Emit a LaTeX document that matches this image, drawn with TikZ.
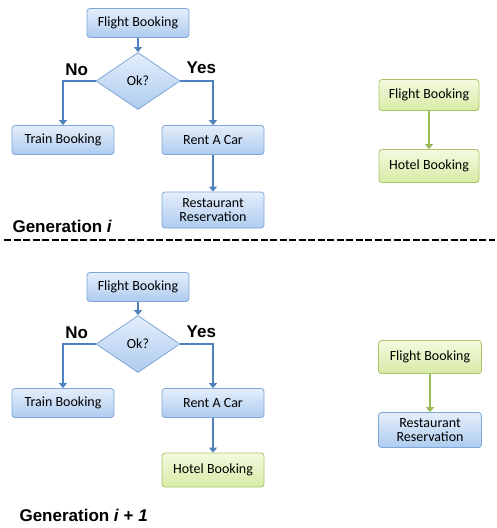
\documentclass[tikz,border=0pt]{standalone}
\usepackage{fontspec}
\setmainfont{Carlito}
\newfontfamily\labelfont{Liberation Sans}
\usetikzlibrary{arrows.meta, positioning, shapes.geometric}
\definecolor{boxblue}{HTML}{7EA6D8}
\definecolor{boxgreen}{HTML}{A9C467}
\definecolor{flowblue}{HTML}{4F81BD}
\definecolor{flowgreen}{HTML}{98B954}
\definecolor{bluetop}{HTML}{E4EEFB}
\definecolor{bluebottom}{HTML}{AECBEF}
\definecolor{greentop}{HTML}{F4FADF}
\definecolor{greenbottom}{HTML}{D7EBA6}

\tikzset{
  bluebox/.style={draw=boxblue, rectangle, rounded corners=3pt, line width=0.8pt,
    top color=bluetop, bottom color=bluebottom,
    minimum width=102pt, minimum height=29pt, align=center, font=\fontsize{14}{14.5}\selectfont},
  greenbox/.style={bluebox, draw=boxgreen, top color=greentop, bottom color=greenbottom},
  decision/.style={draw=boxblue, diamond, line width=0.8pt, inner sep=0pt,
    top color=bluetop, bottom color=bluebottom,
    minimum width=84pt, minimum height=57pt, font=\fontsize{14}{14.5}\selectfont},
  flow/.style={-{Triangle[width=8pt,length=5pt]}, line width=1.6pt, draw=flowblue},
  greenflow/.style={flow, draw=flowgreen},
  answer/.style={font=\labelfont\bfseries\fontsize{17}{17}\selectfont},
  gen/.style={anchor=west, font=\labelfont\bfseries\fontsize{17}{17}\selectfont}
}

\begin{document}
\begin{tikzpicture}[x=1pt, y=1pt, node distance=58pt]
  \useasboundingbox (0,0) rectangle (497,-528);

  % Generation i
  \node (fb1) [bluebox] at (138,-23) {Flight Booking};
  \node (ok1) [decision, below of=fb1, node distance=58pt] {Ok?};
  \node (train1) [bluebox, below of=ok1, xshift=-75pt, node distance=59pt] {Train Booking};
  \node (car1) [bluebox, below of=ok1, xshift=75pt, node distance=59pt] {Rent A Car};
  \node (rest1) [bluebox, below of=car1, minimum height=36pt, node distance=70pt] {Restaurant\\Reservation};
  \node (no1) [answer, above=2pt of ok1.west, xshift=-19pt] {No};
  \node (yes1) [answer, above=4pt of ok1.east, xshift=21pt] {Yes};

  \node (gfb1) [greenbox, minimum width=100pt, minimum height=31pt] at (429,-95) {Flight Booking};
  \node (ghb1) [greenbox, minimum width=100pt, minimum height=33pt, below of=gfb1, node distance=71pt] {Hotel Booking};

  \draw[flow] (fb1) -- (ok1);
  \draw[flow] (ok1.west) -| (train1.north);
  \draw[flow] (ok1.east) -| (car1.north);
  \draw[flow] (car1) -- (rest1);
  \draw[greenflow] (gfb1) -- (ghb1);

  \node (gen1) [gen] at (9,-226) {Generation \textit{i}};

  % Separator
  \coordinate (sepl) at (4,-240);
  \coordinate (sepr) at (495,-240);
  \draw[line width=1.6pt, dash pattern=on 7pt off 2.5pt] (sepl) -- (sepr);

  % Generation i + 1
  \node (fb2) [bluebox, below of=fb1, node distance=264pt] {Flight Booking};
  \node (ok2) [decision, below of=fb2, node distance=57pt] {Ok?};
  \node (train2) [bluebox, below of=ok2, xshift=-75pt, node distance=59pt] {Train Booking};
  \node (car2) [bluebox, below of=ok2, xshift=75pt, node distance=59pt] {Rent A Car};
  \node (hb2) [greenbox, below of=car2, minimum height=34pt, node distance=67pt] {Hotel Booking};
  \node (no2) [answer, above=2pt of ok2.west, xshift=-19pt] {No};
  \node (yes2) [answer, above=3pt of ok2.east, xshift=21pt] {Yes};

  \node (gfb2) [greenbox, minimum width=103pt, minimum height=33pt] at (430,-357) {Flight Booking};
  \node (rr2) [bluebox, minimum width=103pt, minimum height=35pt, below of=gfb2, node distance=73pt] {Restaurant\\Reservation};

  \draw[flow] (fb2) -- (ok2);
  \draw[flow] (ok2.west) -| (train2.north);
  \draw[flow] (ok2.east) -| (car2.north);
  \draw[flow] (car2) -- (hb2);
  \draw[greenflow] (gfb2) -- (rr2);

  \node (gen2) [gen] at (16,-515) {Generation \textit{i} + \textit{1}};
\end{tikzpicture}
\end{document}
